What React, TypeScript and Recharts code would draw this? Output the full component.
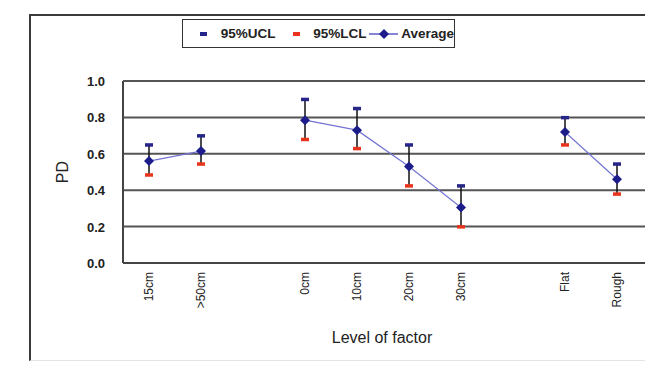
import React from 'react';
import { ComposedChart, Line, XAxis, YAxis, CartesianGrid, ErrorBar } from 'recharts';

const categories = ['15cm', '>50cm', ' ', '0cm', '10cm', '20cm', '30cm', '  ', 'Flat', 'Rough', '   '];
const average = [0.56, 0.615, null, 0.785, 0.73, 0.53, 0.305, null, 0.72, 0.46, null];
const ucl = [0.65, 0.7, null, 0.9, 0.85, 0.65, 0.425, null, 0.8, 0.545, null];
const lcl = [0.485, 0.545, null, 0.68, 0.63, 0.425, 0.2, null, 0.65, 0.38, null];
const yTicks = [0, 0.2, 0.4, 0.6, 0.8, 1.0];

const data = categories.map((c, i) => ({
  name: c,
  avg: average[i],
  ucl: ucl[i],
  lcl: lcl[i],
  err:
    average[i] != null && ucl[i] != null && lcl[i] != null
      ? [(average[i] as number) - (lcl[i] as number), (ucl[i] as number) - (average[i] as number)]
      : undefined,
}));

const FONT = '"Liberation Sans", Arial, sans-serif';

const Diamond = (props: any) => {
  const { cx, cy, value } = props;
  if (value == null || cx == null || cy == null) return <g key={props.index} />;
  return (
    <polygon
      key={props.index}
      points={`${cx},${cy - 5} ${cx + 5},${cy} ${cx},${cy + 5} ${cx - 5},${cy}`}
      fill="#1c1c8a"
    />
  );
};

const makeDash = (color: string) => (props: any) => {
  const { cx, cy, value } = props;
  if (value == null || cx == null || cy == null) return <g key={props.index} />;
  return <rect key={props.index} x={cx - 4} y={cy - 1.5} width={8} height={3.5} fill={color} />;
};

const XTick = (props: any) => {
  const { x, payload } = props;
  return (
    <text
      x={x + 4}
      y={272}
      transform={`rotate(-90 ${x + 4} 272)`}
      textAnchor="end"
      fontSize={12}
      fontFamily={FONT}
      fill="#222"
    >
      {String(payload.value).trim()}
    </text>
  );
};

const YTick = (props: any) => {
  const { y, payload } = props;
  return (
    <text x={105} y={y + 5} textAnchor="end" fontSize={13} fontWeight="bold" fontFamily={FONT} fill="#222">
      {Number(payload.value).toFixed(1)}
    </text>
  );
};

export default function App() {
  return (
    <div
      style={{
        position: 'absolute',
        left: 0,
        top: 0,
        width: 645,
        height: 366,
        overflow: 'hidden',
        background: '#fff',
      }}
    >
      <div
        style={{
          position: 'absolute',
          left: 29,
          top: 14,
          width: 760,
          height: 344,
          borderLeft: '2px solid #3a3a3a',
          borderTop: '2px solid #3a3a3a',
          borderBottom: '1px solid #e4e4e4',
        }}
      />
      <div style={{ position: 'absolute', left: 0, top: 0 }}>
        <ComposedChart
          width={760}
          height={366}
          data={data}
          margin={{ top: 81, left: 63, right: 65, bottom: 33 }}
        >
          <CartesianGrid vertical={false} stroke="#555" strokeWidth={2} />
          <XAxis
            dataKey="name"
            scale="band"
            interval={0}
            height={70}
            stroke="#444"
            strokeWidth={2}
            tickLine={false}
            tick={<XTick />}
            label={(p: any) => (
              <text x={382} y={343} textAnchor="middle" fontSize={16} fontFamily={FONT} fill="#222">
                Level of factor
              </text>
            )}
          />
          <YAxis
            domain={[0, 1]}
            ticks={yTicks}
            width={60}
            stroke="#444"
            strokeWidth={2}
            tickLine={false}
            tick={<YTick />}
            label={(p: any) => (
              <text
                x={68}
                y={172}
                transform="rotate(-90 68 172)"
                textAnchor="middle"
                fontSize={16}
                fontFamily={FONT}
                fill="#222"
              >
                PD
              </text>
            )}
          />
          <Line
            dataKey="avg"
            stroke="#7474d4"
            strokeWidth={1.2}
            dot={false}
            connectNulls={false}
            isAnimationActive={false}
          >
            <ErrorBar dataKey="err" width={0} stroke="#111" strokeWidth={1.5} />
          </Line>
          <Line dataKey="ucl" stroke="none" dot={makeDash('#25258a')} activeDot={false} isAnimationActive={false} />
          <Line dataKey="lcl" stroke="none" dot={makeDash('#e8341c')} activeDot={false} isAnimationActive={false} />
          <Line dataKey="avg" stroke="none" dot={<Diamond />} activeDot={false} isAnimationActive={false} />
        </ComposedChart>
      </div>
      <div
        style={{
          position: 'absolute',
          left: 182,
          top: 19,
          width: 273,
          height: 29,
          border: '1.5px solid #333',
          background: '#fff',
          fontFamily: FONT,
          fontSize: 13.5,
          fontWeight: 'bold',
          color: '#222',
          display: 'flex',
          alignItems: 'center',
          boxSizing: 'border-box',
        }}
      >
        <span style={{ display: 'inline-block', width: 7, height: 4, background: '#25258a', marginLeft: 17 }} />
        <span style={{ marginLeft: 14 }}>95%UCL</span>
        <span style={{ display: 'inline-block', width: 7, height: 4, background: '#e8341c', marginLeft: 18 }} />
        <span style={{ marginLeft: 13 }}>95%LCL</span>
        <svg width={30} height={12} style={{ marginLeft: 3 }}>
          <line x1={0} y1={6} x2={30} y2={6} stroke="#5c5cc8" strokeWidth={1.5} />
          <polygon points="15,1 20,6 15,11 10,6" fill="#1c1c8a" />
        </svg>
        <span style={{ marginLeft: 3 }}>Average</span>
      </div>
    </div>
  );
}
